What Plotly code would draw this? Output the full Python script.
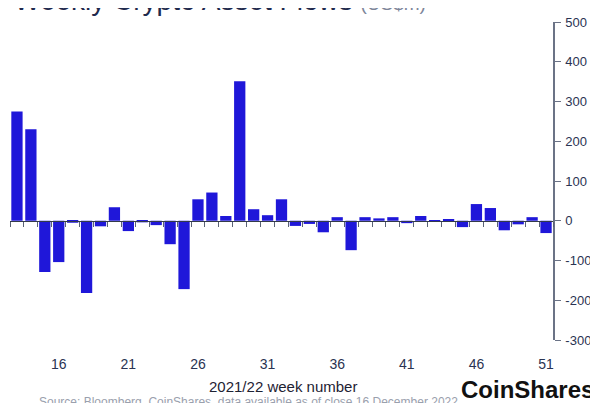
import plotly.graph_objects as go

# Semaines 2021/22 et flux hebdomadaires (US$m)
semaines = list(range(13, 52))
flux = [275, 230, -129, -104, -5, -182, -14, 34, -26, -4,
        -11, -59, -172, 54, 71, 12, 351, 29, 14, 54,
        -13, -8, -29, 9, -74, 9, 6, 9, -6, 12,
        -3, 4, -16, 42, 32, -24, -9, 9, -31]

labels_x = [16, 21, 26, 31, 36, 41, 46, 51]
ticks_y = [-300, -200, -100, 0, 100, 200, 300, 400, 500]

# limites entre les barres (petits traits sur la ligne zéro)
limites = [s - 0.5 for s in semaines] + [semaines[-1] + 0.5]

bleu = '#1F17D9'
texte = '#2a3352'
police = 'Liberation Sans'

fig = go.Figure()

fig.add_trace(go.Bar(
    x=semaines,
    y=flux,
    marker=dict(color=bleu, line=dict(width=0)),
    xaxis='x',
    yaxis='y',
))

# trace invisible pour afficher l'axe des étiquettes
fig.add_trace(go.Scatter(
    x=semaines,
    y=flux,
    mode='markers',
    marker=dict(opacity=0),
    hoverinfo='skip',
    xaxis='x2',
    yaxis='y',
))

# la page ajoute ~8px de marge au body : on décale la zone de tracé
fig.update_layout(
    width=598,
    height=403,
    margin=dict(l=1.5, r=53, t=14, b=71),
    plot_bgcolor='white',
    paper_bgcolor='white',
    showlegend=False,
    bargap=0.19,
    font=dict(family=police, color=texte),
    xaxis=dict(
        range=[12.5, 51.5],
        anchor='free',
        position=0.375,
        showline=True,
        linecolor='#333a4a',
        linewidth=1,
        ticks='outside',
        tickvals=limites,
        ticklen=5,
        tickcolor='#5a6275',
        showticklabels=False,
        showgrid=False,
        zeroline=False,
        automargin=False,
    ),
    xaxis2=dict(
        range=[12.5, 51.5],
        overlaying='x',
        anchor='y',
        side='bottom',
        showline=False,
        ticks='outside',
        ticklen=11,
        tickcolor='rgba(0,0,0,0)',
        tickvals=labels_x,
        tickfont=dict(size=14, color=texte),
        showgrid=False,
        zeroline=False,
        automargin=False,
    ),
    yaxis=dict(
        range=[-300, 500],
        side='right',
        showline=True,
        linecolor='#6b7386',
        linewidth=1.5,
        ticks='outside',
        ticklen=6,
        tickcolor='#6b7386',
        tickvals=ticks_y,
        ticktext=[str(v) for v in ticks_y],
        ticklabelstandoff=2,
        tickfont=dict(size=13, color=texte),
        showgrid=False,
        zeroline=False,
        automargin=False,
    ),
)

fig.add_annotation(
    text="Weekly Crypto Asset Flows <span style='color:#7d8599;font-size:19px'>(US$m)</span>",
    xref='paper', yref='paper', x=0.004, y=1.012,
    xanchor='left', yanchor='bottom', showarrow=False,
    font=dict(size=28, color='#1f2a4d', family=police),
)

fig.add_annotation(
    text='2021/22 week number',
    xref='paper', yref='paper', x=0.502, y=-0.145,
    xanchor='center', yanchor='middle', showarrow=False,
    font=dict(size=15, color='#1e2233', family=police),
)

fig.add_annotation(
    text='Source: Bloomberg, CoinShares, data available as of close 16 December 2022',
    xref='paper', yref='paper', x=0.05, y=-0.195,
    xanchor='left', yanchor='middle', showarrow=False,
    font=dict(size=12, color='#9aa0ad', family=police),
)

fig.add_annotation(
    text='<b>CoinShares</b>',
    xref='paper', yref='paper', x=0.826, y=-0.157,
    xanchor='left', yanchor='middle', showarrow=False,
    font=dict(size=24, color='#111111', family=police),
)

fig.write_html("out.html")
